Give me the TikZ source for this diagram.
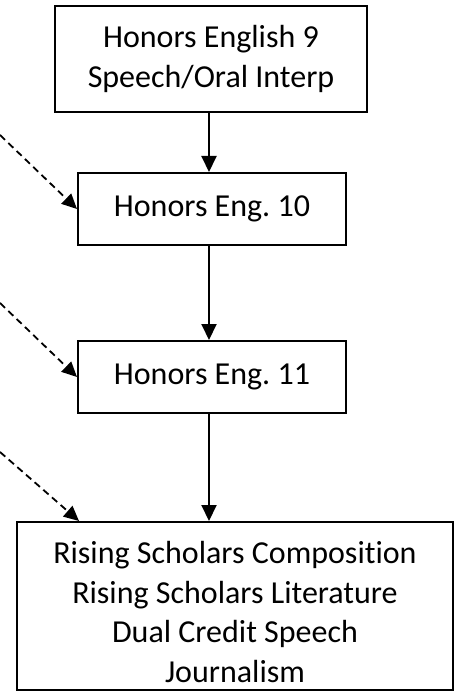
\documentclass[tikz,border=0pt]{standalone}
\usepackage{fontspec}
\setmainfont{Carlito}[Ligatures=NoCommon]
\frenchspacing
\usetikzlibrary{arrows.meta,calc}
\begin{document}
\begin{tikzpicture}[x=1pt,y=-1pt,
  box/.style={draw=black, line width=2pt, rectangle, inner sep=0pt, align=center,
              font=\fontsize{32}{39.5}\selectfont},
  txt/.style={inner sep=0pt, align=center, font=\fontsize{32}{39.5}\selectfont},
  solidarrow/.style={draw=black, line width=2pt, -{Triangle[length=16pt,width=15pt]}},
  dasharrow/.style={draw=black, line width=1.8pt, dash pattern=on 7pt off 4.5pt,
                    -{Triangle[length=15pt,width=14pt]}}]
\useasboundingbox (0,0) rectangle (455,695);
\node[box, minimum width=312pt, minimum height=106pt] (b1) at (211,59)
  {Honors English 9\\Speech/Oral Interp};
\node[box, minimum width=268pt, minimum height=72pt] (b2) at (212,209) {Honors Eng. 10};
\node[box, minimum width=268pt, minimum height=72pt] (b3) at (212,377) {Honors Eng. 11};
\node[box, minimum width=436pt, minimum height=168pt] (b4) at (235,606) {};
\node[txt] (t4) at (235,612)
  {Rising Scholars Composition\\Rising Scholars Literature\\Dual Credit Speech\\Journalism};
\coordinate (ax) at (209,0);
\draw[solidarrow] (b1.south -| ax) -- (b2.north -| ax);
\draw[solidarrow] (b2.south -| ax) -- (b3.north -| ax);
\draw[solidarrow] (b3.south -| ax) -- (b4.north -| ax);
\coordinate (d1) at (0,135);
\coordinate (d2) at (0,303);
\coordinate (d3) at (0,452);
\coordinate (e3) at ($(b4.north west)+(63,0)$);
\draw[dasharrow] (d1) -- (b2.west);
\draw[dasharrow] (d2) -- (b3.west);
\draw[dasharrow] (d3) -- (e3);
\end{tikzpicture}
\end{document}
